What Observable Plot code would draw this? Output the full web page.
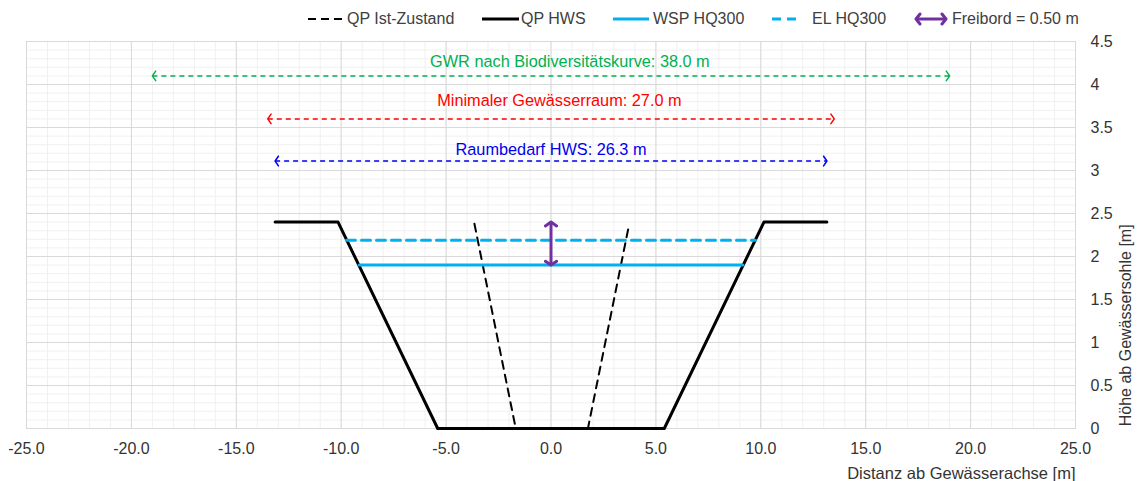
<!DOCTYPE html>
<html><head><meta charset="utf-8">
<script src="https://cdn.jsdelivr.net/npm/d3@7"></script>
<script src="https://cdn.jsdelivr.net/npm/@observablehq/plot@0.6"></script>
<style>
body{margin:0;background:#fff;font-family:"Liberation Sans",Arial,sans-serif;}
#legend{position:relative;width:1137px;height:30px;}
#legend svg{position:absolute;top:0;left:0;}
#legend span{position:absolute;top:10px;font-size:16px;color:#404040;white-space:nowrap;line-height:18px;}
</style></head><body>
<div id="legend"></div>
<div id="chart"></div>
<script>
// ---- data ----
const qpHwsX = [-13.15, -10.15, -5.4, 5.4, 10.15, 13.15];
const qpHwsY = [2.4, 2.4, 0, 0, 2.4, 2.4];
const qpIstX = [-3.65, -1.68, 1.76, 3.73];
const qpIstY = [2.38, 0, 0, 2.38];
const wspX = [-9.15, 9.15];
const wspY = [1.9, 1.9];
const elX = [-9.75, 9.75];
const elY = [2.19, 2.19];
const freibordX = [0, 0];
const freibordY = [1.9, 2.4];
const spanLabels = ["GWR nach Biodiversitätskurve: 38.0 m", "Minimaler Gewässerraum: 27.0 m", "Raumbedarf HWS: 26.3 m"];
const spanWidths = [38.0, 27.0, 26.3];
const spanArrowY = [4.1, 3.6, 3.11];
const spanLabelX = [0.9, 0.4, 0.0];
const spanLabelY = [4.26, 3.81, 3.24];
const spanColors = ["#00b050", "#ff0000", "#0000ee"];
const xTicks = [-25, -20, -15, -10, -5, 0, 5, 10, 15, 20, 25];
const yTicks = [0, 0.5, 1, 1.5, 2, 2.5, 3, 3.5, 4, 4.5];
const legendLabels = ["QP Ist-Zustand", "QP HWS", "WSP HQ300", "EL HQ300", "Freibord = 0.50 m"];
const xTitle = "Distanz ab Gewässerachse [m]";
const yTitle = "Höhe ab Gewässersohle [m]";

// ---- tables ----
const pts = (xs, ys) => xs.map((x, i) => ({x, y: ys[i]}));
const hws = pts(qpHwsX, qpHwsY);
const ist = pts(qpIstX, qpIstY);
const wsp = pts(wspX, wspY);
const el = pts(elX, elY);
const spans = spanLabels.map((label, i) => ({
  label, x1: -spanWidths[i] / 2, x2: spanWidths[i] / 2, y: spanArrowY[i], lx: spanLabelX[i], ly: spanLabelY[i], color: spanColors[i]
}));
const freibord = [{x1: freibordX[0], x2: freibordX[1], y1: freibordY[0], y2: freibordY[1]}];

function chevron(size, sw) {
  return (color) => {
    const m = d3.create("svg:marker")
      .attr("viewBox", `${-size} ${-size} ${2 * size} ${2 * size}`)
      .attr("markerWidth", 2 * size).attr("markerHeight", 2 * size)
      .attr("markerUnits", "userSpaceOnUse")
      .attr("orient", "auto-start-reverse")
      .attr("fill", "none").attr("stroke", color).attr("stroke-width", sw)
      .attr("stroke-linecap", "round").attr("stroke-linejoin", "round");
    m.append("path").attr("d", `M${-size * 0.55},${-size * 0.8}L0,0L${-size * 0.55},${size * 0.8}`)
      .attr("stroke-dasharray", "none");
    return m.node();
  };
}

const minorX = d3.range(-25, 26, 1);
const minorY = d3.range(0, 46).map(i => i / 10);

const chart = Plot.plot({
  width: 1137,
  height: 451,
  marginTop: 11,
  marginBottom: 53,
  marginLeft: 26,
  marginRight: 62,
  style: {fontFamily: "'Liberation Sans', Arial, sans-serif", fontSize: "16px", color: "#333", background: "#fff"},
  x: {domain: [-25, 25]},
  y: {domain: [0, 4.5]},
  marks: [
    Plot.ruleX(minorX, {stroke: "#f0f0f0", strokeWidth: 1}),
    Plot.ruleY(minorY, {stroke: "#f0f0f0", strokeWidth: 1}),
    Plot.ruleX(xTicks, {stroke: "#d9d9d9", strokeWidth: 1}),
    Plot.ruleY(yTicks, {stroke: "#d9d9d9", strokeWidth: 1}),
    Plot.frame({stroke: "#d9d9d9"}),
    Plot.axisX(xTicks, {tickSize: 0, tickPadding: 14, tickFormat: d => d.toFixed(1), fontSize: 16, fill: "#333", label: null}),
    Plot.axisY(yTicks, {anchor: "right", tickSize: 0, tickPadding: 15, tickFormat: d => String(d), fontSize: 16, fill: "#333", label: null}),
    Plot.text([xTitle], {x: 25, y: 0, text: d => d, textAnchor: "end", dy: 45, fontSize: 16.5, fill: "#333"}),
    Plot.text([yTitle], {x: 25, y: 1.2, text: d => d, rotate: -90, dx: 50, fontSize: 16, fill: "#333"}),
    // spans
    Plot.link(spans, {x1: "x1", x2: "x2", y1: "y", y2: "y", stroke: "color", strokeWidth: 1.5, strokeDasharray: "5,4",
      markerStart: chevron(6, 1.5), markerEnd: chevron(6, 1.5)}),
    Plot.text(spans, {x: "lx", y: "ly", text: "label", fill: "color", fontSize: 16.3}),
    // profiles
    Plot.line(ist, {x: "x", y: "y", stroke: "#000", strokeWidth: 2, strokeDasharray: "8,6"}),
    Plot.line(hws, {x: "x", y: "y", stroke: "#000", strokeWidth: 3}),
    Plot.line(el, {x: "x", y: "y", stroke: "#00b0f0", strokeWidth: 3, strokeDasharray: "9,6"}),
    Plot.line(wsp, {x: "x", y: "y", stroke: "#00b0f0", strokeWidth: 3}),
    Plot.link(freibord, {x1: "x1", x2: "x2", y1: "y1", y2: "y2", stroke: "#7030a0", strokeWidth: 3,
      markerStart: chevron(7, 3), markerEnd: chevron(7, 3)})
  ]
});
document.getElementById("chart").appendChild(chart);

// ---- legend ----
const legend = d3.select("#legend");
const lsvg = legend.append("svg").attr("width", 1137).attr("height", 30);
const defs = lsvg.append("defs");
const mk = defs.append("marker").attr("id", "lgArrow").attr("viewBox", "-7 -7 14 14")
  .attr("markerWidth", 14).attr("markerHeight", 14).attr("markerUnits", "userSpaceOnUse")
  .attr("orient", "auto-start-reverse").attr("fill", "none").attr("stroke", "#7030a0").attr("stroke-width", 3)
  .attr("stroke-linecap", "round").attr("stroke-linejoin", "round");
mk.append("path").attr("d", "M-4,-5L0,0L-4,5");
const ly = 19;
const swatches = [
  {x1: 308, x2: 343, stroke: "#000", w: 2, dash: "8,5", tx: 347},
  {x1: 482, x2: 519, stroke: "#000", w: 3, dash: null, tx: 521},
  {x1: 613, x2: 649, stroke: "#00b0f0", w: 3, dash: null, tx: 653},
  {x1: 772, x2: 802, stroke: "#00b0f0", w: 3, dash: "9,6", tx: 812},
  {x1: 916, x2: 946, stroke: "#7030a0", w: 3, dash: null, tx: 952, arrow: true}
];
swatches.forEach((s, i) => {
  const l = lsvg.append("line").attr("x1", s.x1).attr("x2", s.x2).attr("y1", ly).attr("y2", ly)
    .attr("stroke", s.stroke).attr("stroke-width", s.w);
  if (s.dash) l.attr("stroke-dasharray", s.dash);
  if (s.arrow) l.attr("marker-start", "url(#lgArrow)").attr("marker-end", "url(#lgArrow)");
  legend.append("span").style("left", s.tx + "px").text(legendLabels[i]);
});
</script>
</body></html>
